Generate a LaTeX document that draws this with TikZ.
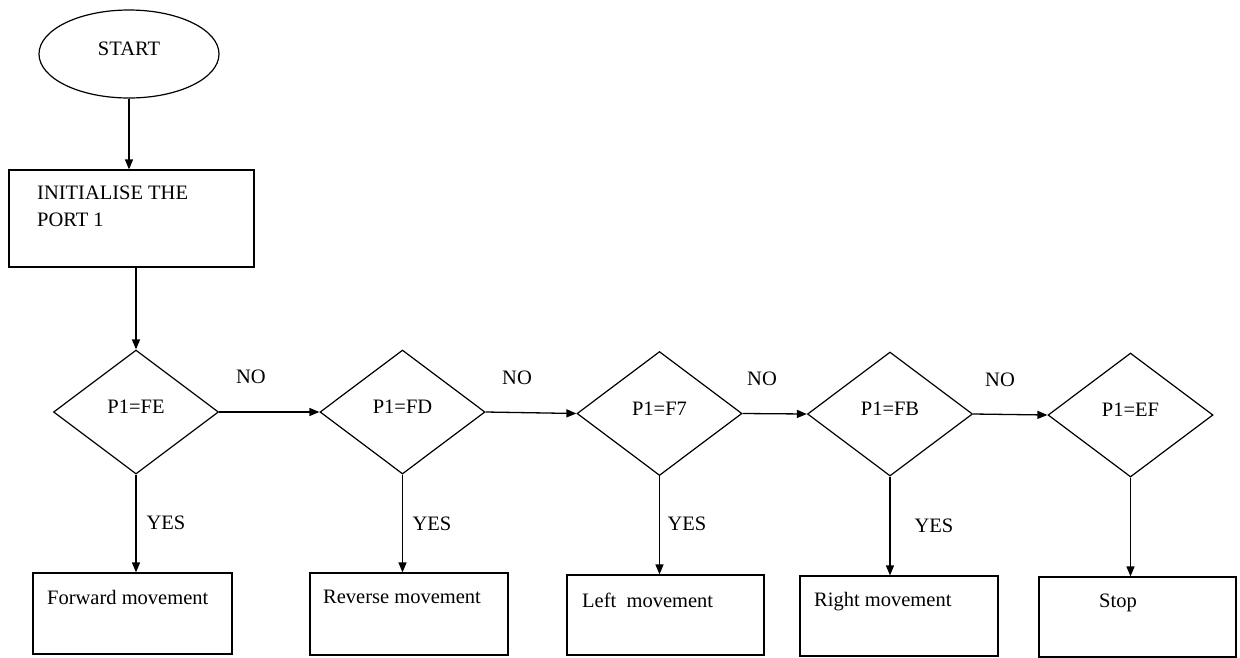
\documentclass[tikz,border=0pt]{standalone}
\usepackage{fontspec}
\setmainfont{Liberation Serif}
\newfontfamily\tnr{Liberation Serif}
\usetikzlibrary{shapes.geometric,arrows.meta}
\begin{document}
\begin{tikzpicture}[x=1pt,y=-1pt,
  every node/.style={font=\tnr\fontsize{20.5}{27}\selectfont},
  dec/.style={draw,shape=diamond,line width=1.2pt,inner sep=0pt,minimum width=165pt,minimum height=124pt},
  boxnode/.style={draw,rectangle,line width=1.2pt,inner sep=0pt},
  txt/.style={inner sep=0pt},
  conn/.style={line width=1.3pt,-{Triangle[length=10pt,width=8pt]}}]
\useasboundingbox (0,0) rectangle (1240,657);
% start
\node[draw,ellipse,line width=1.2pt,minimum width=180pt,minimum height=88pt,inner sep=0pt] (start) at (129,54) {\raisebox{10pt}{START}};
% init
\node[boxnode,minimum width=245pt,minimum height=97pt] (init) at (131.5,218.5) {};
\node[txt,anchor=north west,align=left] (inittxt) at (37,186) {INITIALISE THE\\PORT 1};
% decisions
\node[dec] (d1) at (136,412) {\raisebox{10pt}{P1=FE}};
\node[dec] (d2) at (402.5,412) {\raisebox{10pt}{P1=FD}};
\node[dec] (d3) at (659.5,413.5) {\raisebox{10pt}{P1=F7}};
\node[dec] (d4) at (890,414) {\raisebox{10pt}{P1=FB}};
\node[dec] (d5) at (1130.5,415) {\raisebox{10pt}{P1=EF}};
% bottom boxes
\node[boxnode,minimum width=199pt,minimum height=81pt] (b1) at (132.5,613.5) {};
\node[boxnode,minimum width=198pt,minimum height=82pt] (b2) at (409,614) {};
\node[boxnode,minimum width=197pt,minimum height=80pt] (b3) at (665.5,615) {};
\node[boxnode,minimum width=198pt,minimum height=80pt] (b4) at (899,616) {};
\node[boxnode,minimum width=197pt,minimum height=80pt] (b5) at (1137.5,617) {};
\node[txt,anchor=west] (t1) at (47,597) {Forward movement};
\node[txt,anchor=west] (t2) at (323,597) {Reverse movement};
\node[txt,anchor=west] (t3) at (582,600) {Left\ \ movement};
\node[txt,anchor=west] (t4) at (814,602) {Right movement};
\node[txt] (t5) at (1118,603) {Stop};
% labels
\node[txt] (no1) at (251,377) {NO};
\node[txt] (no2) at (517,378) {NO};
\node[txt] (no3) at (762,379) {NO};
\node[txt] (no4) at (1000,380) {NO};
\node[txt] (yes1) at (166,523) {YES};
\node[txt] (yes2) at (432,524) {YES};
\node[txt] (yes3) at (687,524) {YES};
\node[txt] (yes4) at (934,526) {YES};
% connectors
\draw[conn] (start.south) -- (start.south |- init.north);
\draw[conn] (d1.north |- init.south) -- (d1.north);
\draw[conn] (d1.east) -- (d2.west);
\draw[conn] (d2.east) -- (d3.west);
\draw[conn] (d3.east) -- (d4.west);
\draw[conn] (d4.east) -- (d5.west);
\draw[conn] (d1.south) -- (d1.south |- b1.north);
\draw[conn] (d2.south) -- (d2.south |- b2.north);
\draw[conn] (d3.south) -- (d3.south |- b3.north);
\draw[conn] (d4.south) -- (d4.south |- b4.north);
\draw[conn] (d5.south) -- (d5.south |- b5.north);
\end{tikzpicture}
\end{document}
